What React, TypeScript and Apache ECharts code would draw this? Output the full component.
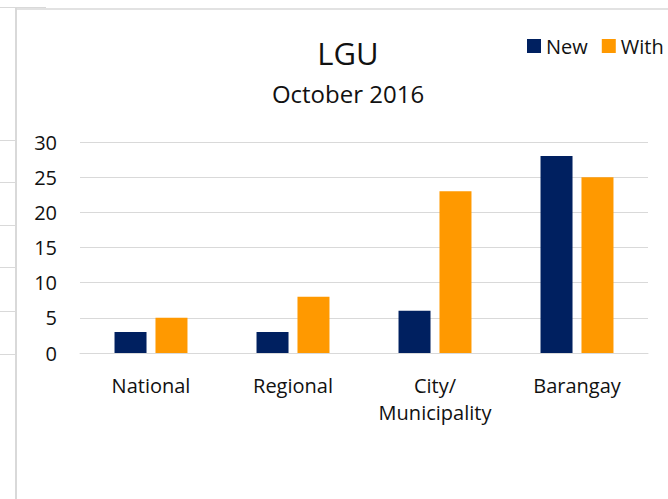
import React, { useEffect, useRef } from "react";
import * as echarts from "echarts";

const categories = ["National", "Regional", "City/\nMunicipality", "Barangay"];
const newValues = [3, 3, 6, 28];
const withValues = [5, 8, 23, 25];
const seriesNames = ["New", "With"];
const yTicks = { min: 0, max: 30, interval: 5 };
const titleText = "LGU";
const subtitleText = "October 2016";
const neighbourGridY = [140, 182, 225, 267, 311, 354];

const FONT = "'Open Sans', sans-serif";
const TEXT = "#111111";
const GRID = "#d9d9d9";

export default function App() {
  const ref = useRef<HTMLDivElement>(null);
  useEffect(() => {
    if (!ref.current) return;
    const chart = echarts.init(ref.current, undefined, { renderer: "svg" });
    const decor: any[] = [
      { type: "line", shape: { x1: 16, y1: 8, x2: 16, y2: 499 }, style: { stroke: GRID, lineWidth: 2 } },
      { type: "line", shape: { x1: 16, y1: 9, x2: 668, y2: 9 }, style: { stroke: GRID, lineWidth: 1.5 } },
      { type: "line", shape: { x1: 0, y1: 7.5, x2: 46, y2: 7.5 }, style: { stroke: GRID, lineWidth: 1 } },
      ...neighbourGridY.map((y) => ({
        type: "line",
        shape: { x1: 0, y1: y + 0.5, x2: 15, y2: y + 0.5 },
        style: { stroke: GRID, lineWidth: 1 },
      })),
      {
        type: "text",
        x: 348,
        y: 53,
        style: { text: titleText, fontSize: 31, fontFamily: FONT, fill: TEXT, align: "center", verticalAlign: "middle" },
      },
      {
        type: "text",
        x: 348,
        y: 93,
        style: { text: subtitleText, fontSize: 24, fontFamily: FONT, fill: TEXT, align: "center", verticalAlign: "middle" },
      },
    ];
    chart.setOption({
      animation: false,
      backgroundColor: "#ffffff",
      textStyle: { fontFamily: FONT },
      graphic: decor,
      legend: {
        orient: "horizontal",
        left: 522,
        top: 31,
        width: 260,
        itemWidth: 14,
        itemHeight: 14,
        itemGap: 14,
        icon: "rect",
        textStyle: { fontSize: 20, color: TEXT, fontFamily: FONT },
        data: seriesNames,
      },
      grid: { left: 80, right: 20, top: 142, bottom: 146, containLabel: false },
      xAxis: {
        type: "category",
        data: categories,
        axisLine: { show: true, lineStyle: { color: GRID, width: 1 } },
        axisTick: { show: false },
        axisLabel: { fontSize: 20, color: TEXT, fontFamily: FONT, lineHeight: 27, margin: 19, interval: 0 },
      },
      yAxis: {
        type: "value",
        min: yTicks.min,
        max: yTicks.max,
        interval: yTicks.interval,
        axisLine: { show: false },
        axisTick: { show: false },
        splitLine: { lineStyle: { color: GRID, width: 1 } },
        axisLabel: { fontSize: 20, color: TEXT, fontFamily: FONT, margin: 23 },
      },
      series: [
        {
          name: seriesNames[0],
          type: "bar",
          data: newValues,
          barWidth: 32,
          barGap: "28%",
          itemStyle: { color: "#002060" },
        },
        {
          name: seriesNames[1],
          type: "bar",
          data: withValues,
          barWidth: 32,
          barGap: "28%",
          itemStyle: { color: "#ff9900" },
        },
      ],
    });
    return () => chart.dispose();
  }, []);
  return (
    <div
      ref={ref}
      style={{ position: "fixed", left: 0, top: 0, width: 668, height: 499, background: "#fff" }}
    />
  );
}
